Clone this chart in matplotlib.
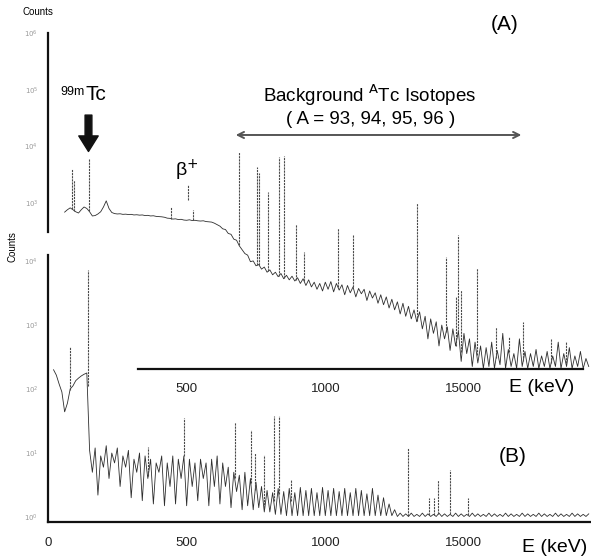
import numpy as np
import matplotlib
matplotlib.use("Agg")
import matplotlib.pyplot as plt
from matplotlib.ticker import NullLocator

plt.rcParams['font.family'] = ['Liberation Sans', 'DejaVu Sans']

# ---------------- data ----------------
# Spectrum (A): continuum counts on a 10 keV grid, 60 ... 1950 keV
A_energy = np.arange(60, 1960, 10)
A_counts = [
    690, 760, 820, 760, 700, 665, 760, 850, 800, 700,
    590, 600, 640, 700, 850, 1090, 800, 680, 650, 640,
    645, 630, 635, 625, 630, 615, 620, 610, 615, 600,
    605, 590, 595, 580, 575, 570, 560, 540, 535, 520,
    525, 510, 515, 500, 495, 505, 490, 495, 485, 480,
    485, 470, 465, 460, 440, 415, 390, 350, 340, 290,
    280, 230, 220, 175, 150, 128, 120, 92, 95, 78,
    82, 68, 74, 60, 66, 54, 60, 50, 57, 46,
    53, 44, 51, 42, 48, 38, 46, 35, 44, 33,
    40, 30, 38, 28, 40, 30, 41, 27, 38, 29,
    36, 24, 35, 26, 33, 22, 31, 25, 30, 19,
    28, 21, 26, 17, 24, 16, 22, 14, 20, 13,
    18, 11, 17, 10, 15, 9, 13, 8, 12, 6,
    10, 4, 9, 5, 8, 3, 7, 4, 6.5, 2.5,
    6, 3, 5.5, 1.6, 5, 2.2, 4, 1.3, 3.5, 1.5,
    3, 1.2, 2.8, 1.3, 3.5, 1.2, 2.5, 1.4, 5, 1.2,
    2.6, 1.3, 2.2, 1.2, 4, 1.3, 2.4, 1.2, 2.2, 1.3,
    2.6, 1.2, 2.0, 1.3, 2.4, 1.2, 2.0, 1.3, 3.5, 1.2,
    2.2, 1.3, 2.8, 1.2, 2.0, 1.3, 2.4, 1.2, 1.8, 1.3,
]
# Spectrum (A): gamma lines (keV, peak counts)
A_peak_E = [87, 94, 148, 444, 523, 689, 754, 761, 793, 833, 851, 894, 923,
            1046, 1100, 1331, 1435, 1470, 1479, 1488, 1547, 1615, 1662, 1713,
            1814, 1868]
A_peak_top = [4000, 2550, 6000, 850, 750, 7900, 4300, 3400, 1560, 6400, 6700,
              430, 138, 360, 275, 1000, 113, 22, 275, 29, 72, 6.5, 4.3, 7.8,
              4.0, 3.5]

# Spectrum (B): continuum counts on a 10 keV grid, 20 ... 1950 keV
B_energy = np.arange(20, 1960, 10)
B_counts = [
    200, 165, 120, 90, 44, 60, 100, 112, 135, 148,
    160, 170, 178, 11, 5, 12, 2.2, 9, 6, 13,
    4, 10, 7, 12, 3, 9, 6, 11, 2.0, 8,
    5, 10, 1.8, 9, 4, 8, 1.6, 7, 5, 9,
    1.5, 7, 3, 9, 1.6, 8, 4, 9, 1.5, 8,
    3, 7, 1.8, 8, 4, 7, 1.5, 8, 3, 9,
    1.6, 7, 3, 6, 1.4, 5, 2.5, 4.5, 1.3, 5,
    1.5, 4, 1.3, 3.5, 1.4, 3, 1.2, 2.6, 1.2, 2.4,
    1.1, 2.8, 1.1, 2.5, 1.05, 2.8, 1.05, 2.4, 1.05, 2.9,
    1.05, 2.6, 1.05, 2.8, 1.05, 2.4, 1.05, 2.9, 1.05, 2.6,
    1.05, 2.8, 1.05, 2.5, 1.05, 2.8, 1.05, 2.4, 1.05, 2.8,
    1.05, 2.6, 1.05, 2.3, 1.05, 2.8, 1.05, 2.2, 1.05, 2.0,
    1.05, 1.6, 1.05, 1.3, 1.02, 1.15, 1.02, 1.12, 1.02, 1.15,
    1.02, 1.10, 1.02, 1.15, 1.02, 1.12, 1.02, 1.10, 1.02, 1.15,
    1.02, 1.12, 1.02, 1.10, 1.02, 1.15, 1.02, 1.12, 1.02, 1.10,
    1.02, 1.15, 1.02, 1.12, 1.02, 1.10, 1.02, 1.15, 1.02, 1.12,
    1.02, 1.10, 1.02, 1.15, 1.02, 1.12, 1.02, 1.10, 1.02, 1.15,
    1.02, 1.12, 1.02, 1.10, 1.02, 1.15, 1.02, 1.12, 1.02, 1.10,
    1.02, 1.15, 1.02, 1.12, 1.02, 1.10, 1.02, 1.15, 1.02, 1.12,
    1.02, 1.10, 1.02, 1.12,
]
# Spectrum (B): gamma lines (keV, peak counts)
B_peak_E = [79, 144, 361, 490, 674, 732, 746, 779, 815, 833, 876,
            1298, 1374, 1392, 1406, 1450, 1515]
B_peak_top = [450, 7200, 12.4, 35, 30, 23, 10, 9.3, 38, 38, 3.8,
              12, 2.0, 2.0, 3.8, 5.4, 2.0]

x_ticks = [0, 500, 1000, 1500]
x_ticklabels = ["0", "500", "1000", "15000"]
A_yticks = [1e3, 1e4, 1e5, 1e6]
B_yticks = [1e0, 1e1, 1e2, 1e3, 1e4]

# ---------------- figure ----------------
W_PX, H_PX = 591, 557
fig = plt.figure(figsize=(W_PX / 100, H_PX / 100), dpi=100)

def fx(px):
    return px / W_PX

def fy(py):
    return 1 - py / H_PX

L = 48
XMAX = (591 - 48) / 0.2773
axB = fig.add_axes([fx(L), fy(522), 1 - fx(L), (522 - 255) / H_PX])
axA = fig.add_axes([fx(L), fy(369), 1 - fx(L), (369 - 33) / H_PX])

spine_col = '#111111'
line_col = '#2e2e2e'
peak_col = '#4a4a4a'

for ax in (axA, axB):
    ax.set_facecolor('none')
    ax.set_yscale('log')
    ax.set_xlim(0, XMAX)
    ax.spines['top'].set_visible(False)
    ax.spines['right'].set_visible(False)
    for s in ('left', 'bottom'):
        ax.spines[s].set_linewidth(1.6)
        ax.spines[s].set_color(spine_col)
    ax.yaxis.set_minor_locator(NullLocator())
    ax.tick_params(axis='both', length=0)
    ax.tick_params(axis='x', labelsize=9.5, labelcolor='#222222')
    ax.tick_params(axis='y', labelsize=5, labelcolor='#9a9a9a', pad=7)

# ---- panel B ----
axB.set_ylim(10 ** -0.078, 10 ** 4.094)
axB.plot(B_energy, B_counts, color=line_col, lw=0.6)
B_base = np.interp(B_peak_E, B_energy, B_counts)
axB.vlines(B_peak_E, B_base, B_peak_top, colors=peak_col, lw=0.8,
           linestyles=(0, (2, 0.8)))
axB.set_yticks(B_yticks)
axB.set_yticklabels([r'$10^{%d}$' % i for i in range(5)])
axB.set_xticks(x_ticks)
axB.set_xticklabels(x_ticklabels)
axB.tick_params(axis='x', pad=11)

# ---- panel A ----
axA.set_ylim(10 ** 0.07, 1e6)
axA.plot(A_energy, A_counts, color=line_col, lw=0.6)
A_base = np.interp(A_peak_E, A_energy, A_counts)
axA.vlines(A_peak_E, A_base, A_peak_top, colors=peak_col, lw=0.8,
           linestyles=(0, (2, 0.8)))
axA.set_yticks(A_yticks)
axA.set_yticklabels([r'$10^{%d}$' % i for i in range(3, 7)])
axA.set_xticks(x_ticks[1:])
axA.set_xticklabels(x_ticklabels[1:])
axA.tick_params(axis='x', pad=10)
axA.spines['left'].set_bounds(10 ** 2.49, 1e6)
axA.spines['bottom'].set_bounds((138 - 48) / 0.2773, (583 - 48) / 0.2773)

# beta+ marker
axA.plot([505, 505], [10 ** 3.05, 10 ** 3.32], color=peak_col, lw=0.8,
         linestyle=(0, (2, 0.8)))

# 99mTc arrow
axA.annotate('', xy=(146, 10 ** 3.86), xytext=(146, 10 ** 4.60),
             arrowprops=dict(arrowstyle='simple,head_length=0.8,head_width=1.0,tail_width=0.35',
                             color='#111111', mutation_scale=14))

# background double arrow
axA.annotate('', xy=(667, 10 ** 4.20), xytext=(1717, 10 ** 4.20),
             arrowprops=dict(arrowstyle='<->', color='#555555', lw=1.4,
                             mutation_scale=11))

# ---------------- texts ----------------
fig.text(fx(38), fy(12), 'Counts', fontsize=7, ha='center', va='center')
fig.text(fx(13), fy(247), 'Counts', fontsize=7, ha='center', va='center',
         rotation=90)
fig.text(fx(85), fy(86), '99m', fontsize=9, ha='right', va='top')
fig.text(fx(85), fy(95), 'Tc', fontsize=15, ha='left', va='center')
fig.text(fx(187), fy(170), r'β$^{+}$', fontsize=14, ha='center', va='center')
fig.text(fx(505), fy(25), '(A)', fontsize=15, ha='center', va='center')
fig.text(fx(513), fy(457), '(B)', fontsize=15, ha='center', va='center')
fig.text(fx(370), fy(95), r'Background $^{\mathsf{A}}$Tc Isotopes', fontsize=13.5,
         ha='center', va='center')
fig.text(fx(371), fy(120), '( A = 93, 94, 95, 96 )', fontsize=13.5,
         ha='center', va='center')
fig.text(fx(542), fy(388), 'E (keV)', fontsize=14, ha='center', va='center')
fig.text(fx(555), fy(548), 'E (keV)', fontsize=14, ha='center', va='center')

fig.savefig('out.png', dpi=100)
